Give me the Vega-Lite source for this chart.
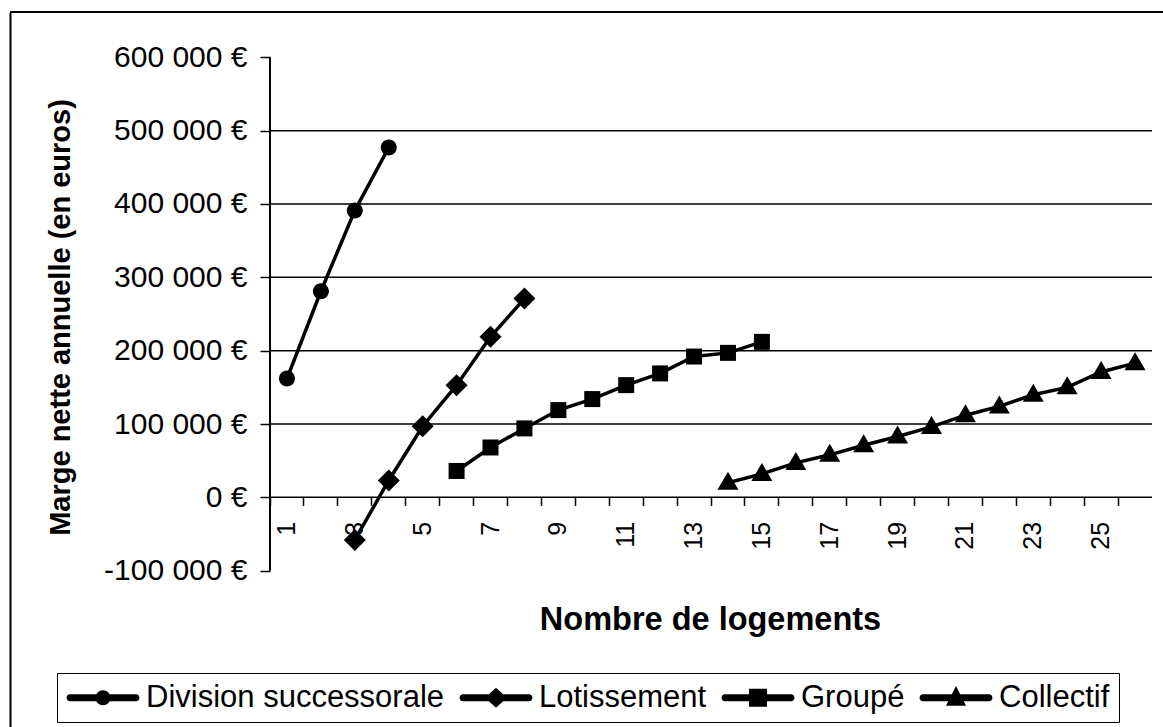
{
  "$schema": "https://vega.github.io/schema/vega-lite/v6.json",
  "width": 1153,
  "height": 715,
  "autosize": "none",
  "padding": {"left": 10, "top": 12, "right": 0, "bottom": 0},
  "background": "white",
  "config": {
    "view": {"stroke": null},
    "font": "Liberation Sans"
  },
  "datasets": {
    "marges": [
      {"n": 1, "serie": "Division successorale", "v": 162000},
      {"n": 2, "serie": "Division successorale", "v": 281000},
      {"n": 3, "serie": "Division successorale", "v": 391000},
      {"n": 4, "serie": "Division successorale", "v": 477000},
      {"n": 3, "serie": "Lotissement", "v": -58000},
      {"n": 4, "serie": "Lotissement", "v": 23000},
      {"n": 5, "serie": "Lotissement", "v": 97000},
      {"n": 6, "serie": "Lotissement", "v": 153000},
      {"n": 7, "serie": "Lotissement", "v": 219000},
      {"n": 8, "serie": "Lotissement", "v": 271000},
      {"n": 6, "serie": "Groupé", "v": 36000},
      {"n": 7, "serie": "Groupé", "v": 68000},
      {"n": 8, "serie": "Groupé", "v": 94000},
      {"n": 9, "serie": "Groupé", "v": 119000},
      {"n": 10, "serie": "Groupé", "v": 134000},
      {"n": 11, "serie": "Groupé", "v": 153000},
      {"n": 12, "serie": "Groupé", "v": 169000},
      {"n": 13, "serie": "Groupé", "v": 192000},
      {"n": 14, "serie": "Groupé", "v": 197000},
      {"n": 15, "serie": "Groupé", "v": 212000},
      {"n": 14, "serie": "Collectif", "v": 20000},
      {"n": 15, "serie": "Collectif", "v": 32000},
      {"n": 16, "serie": "Collectif", "v": 47000},
      {"n": 17, "serie": "Collectif", "v": 58000},
      {"n": 18, "serie": "Collectif", "v": 71000},
      {"n": 19, "serie": "Collectif", "v": 83000},
      {"n": 20, "serie": "Collectif", "v": 96000},
      {"n": 21, "serie": "Collectif", "v": 112000},
      {"n": 22, "serie": "Collectif", "v": 124000},
      {"n": 23, "serie": "Collectif", "v": 140000},
      {"n": 24, "serie": "Collectif", "v": 150000},
      {"n": 25, "serie": "Collectif", "v": 171000},
      {"n": 26, "serie": "Collectif", "v": 183000}
    ],
    "grille": [
      {"g": 0}, {"g": 100000}, {"g": 200000}, {"g": 300000}, {"g": 400000}, {"g": 500000}
    ]
  },
  "resolve": {
    "axis": {"x": "independent", "y": "independent"},
    "scale": {"shape": "independent"},
    "legend": {"shape": "independent"}
  },
  "layer": [
    {
      "data": {"name": "grille"},
      "transform": [{"filter": "datum.g == 0"}],
      "mark": {"type": "rule", "color": "black", "strokeWidth": 2},
      "encoding": {
        "y": {"datum": 661765, "type": "quantitative",
          "scale": {"domain": [-313110, 661765], "nice": false, "zero": false},
          "axis": {"orient": "left", "offset": 0, "domain": true, "domainColor": "black", "domainWidth": 2, "ticks": false, "labels": false, "grid": false, "title": null}}
      }
    },
    {
      "data": {"name": "grille"},
      "mark": {"type": "rule", "color": "black", "strokeWidth": 1.5},
      "encoding": {
        "x": {"datum": 1, "type": "ordinal", "bandPosition": 0,
          "scale": {"type": "band", "domain": [1,2,3,4,5,6,7,8,9,10,11,12,13,14,15,16,17,18,19,20,21,22,23,24,25,26], "paddingInner": 0, "paddingOuter": 0, "range": [260, 1142]},
          "axis": null},
        "x2": {"datum": 26, "bandPosition": 1},
        "y": {"field": "g", "type": "quantitative", "axis": null}
      }
    },
    {
      "data": {"name": "grille"},
      "transform": [{"filter": "datum.g == 0"}],
      "mark": {"type": "rule", "color": "black", "strokeWidth": 2},
      "encoding": {
        "x": {"datum": 1, "type": "ordinal", "bandPosition": 0, "axis": null},
        "y": {"datum": -100000, "type": "quantitative", "axis": null},
        "y2": {"datum": 600000}
      }
    },
    {
      "data": {"name": "marges"},
      "mark": {"type": "line", "color": "black", "strokeWidth": 3.5},
      "encoding": {
        "x": {"field": "n", "type": "ordinal", "axis": null},
        "y": {"field": "v", "type": "quantitative", "axis": null},
        "detail": {"field": "serie"}
      }
    },
    {
      "data": {"name": "marges"},
      "mark": {"type": "point", "filled": true, "color": "black", "opacity": 0, "size": 400, "strokeWidth": 0},
      "encoding": {
        "x": {"field": "n", "type": "ordinal", "axis": null},
        "y": {"field": "v", "type": "quantitative", "axis": null},
        "shape": {"field": "serie", "type": "nominal",
          "scale": {"domain": ["Division successorale", "Lotissement", "Groupé", "Collectif"],
            "range": [
              "M-1.15,-0.35H5.45A0.35,0.35 0 0,1 5.45,0.35H-1.15A0.35,0.35 0 0,1 -1.15,-0.35Z M1.4,0A0.75,0.75 0 1,1 2.9,0A0.75,0.75 0 1,1 1.4,0Z",
              "M-1.15,-0.35H5.45A0.35,0.35 0 0,1 5.45,0.35H-1.15A0.35,0.35 0 0,1 -1.15,-0.35Z M1.05,0L2.15,-1L3.25,0L2.15,1Z",
              "M-1.15,-0.35H5.45A0.35,0.35 0 0,1 5.45,0.35H-1.15A0.35,0.35 0 0,1 -1.15,-0.35Z M1.25,-0.9H3.05V0.9H1.25Z",
              "M-1.15,-0.35H5.45A0.35,0.35 0 0,1 5.45,0.35H-1.15A0.35,0.35 0 0,1 -1.15,-0.35Z M1.15,0.8L2.15,-1.17L3.15,0.8Z"
            ]},
          "legend": {
            "orient": "none", "legendX": 47, "legendY": 661, "direction": "horizontal", "title": null,
            "strokeColor": "black", "padding": 9, "columnPadding": 14,
            "labelFont": "Liberation Sans", "labelFontSize": 31, "labelColor": "black", "labelOffset": 49, "labelLimit": 600,
            "symbolSize": 400, "symbolStrokeWidth": 0, "symbolFillColor": "black", "symbolStrokeColor": "black", "symbolOpacity": 1,
            "encode": {
              "legend": {"strokeWidth": {"value": 2}}
            }
          }}
      }
    },
    {
      "data": {"name": "marges"},
      "mark": {"type": "point", "filled": true, "color": "black", "opacity": 1, "size": 400, "strokeWidth": 0},
      "encoding": {
        "x": {"field": "n", "type": "ordinal",
          "scale": {"type": "band", "domain": [1,2,3,4,5,6,7,8,9,10,11,12,13,14,15,16,17,18,19,20,21,22,23,24,25,26], "paddingInner": 0, "paddingOuter": 0, "range": [260, 1142]},
          "axis": {"orient": "bottom", "offset": -229.6, "bandPosition": 0, "domain": false, "grid": false,
            "ticks": true, "tickSize": 8, "tickColor": "black", "tickWidth": 1.5,
            "labelAngle": 270, "labelPadding": 16, "labelFont": "Liberation Sans", "labelFontSize": 25, "labelColor": "black",
            "labelExpr": "datum.value % 2 == 1 ? datum.label : ''", "labelOverlap": false,
            "title": "Nombre de logements", "titleFont": "Liberation Sans", "titleFontSize": 32.5, "titleFontWeight": "bold", "titleColor": "black",
            "titleX": 700, "titleY": 132, "titleBaseline": "alphabetic", "titleAlign": "center"}},
        "y": {"field": "v", "type": "quantitative",
          "scale": {"domain": [-313110, 661765], "nice": false, "zero": false},
          "axis": {"orient": "left", "offset": -260, "domain": false, "grid": false,
            "values": [-100000, 0, 100000, 200000, 300000, 400000, 500000, 600000],
            "ticks": true, "tickSize": 10, "tickColor": "black", "tickWidth": 1.5,
            "labelPadding": 13, "labelFont": "Liberation Sans", "labelFontSize": 30, "labelColor": "black",
            "labelExpr": "datum.value == 0 ? '0 €' : (datum.value < 0 ? '-' : '') + format(abs(datum.value) / 1000, 'd') + ' 000 €'",
            "title": "Marge nette annuelle (en euros)", "titleFont": "Liberation Sans", "titleFontSize": 29, "titleFontWeight": "bold", "titleColor": "black",
            "titleAngle": -90, "titleX": -210, "titleY": 305, "titleBaseline": "middle", "titleAlign": "center"}},
        "shape": {"field": "serie", "type": "nominal",
          "scale": {"domain": ["Division successorale", "Lotissement", "Groupé", "Collectif"],
            "range": ["M-0.8,0A0.8,0.8 0 1,1 0.8,0A0.8,0.8 0 1,1 -0.8,0Z", "M-1.1,0L0,-1.1L1.1,0L0,1.1Z", "M-0.8,-0.8H0.8V0.8H-0.8Z", "M-1.05,0.7L0,-1.1L1.05,0.7Z"]},
          "legend": null}
      }
    }
  ]
}
